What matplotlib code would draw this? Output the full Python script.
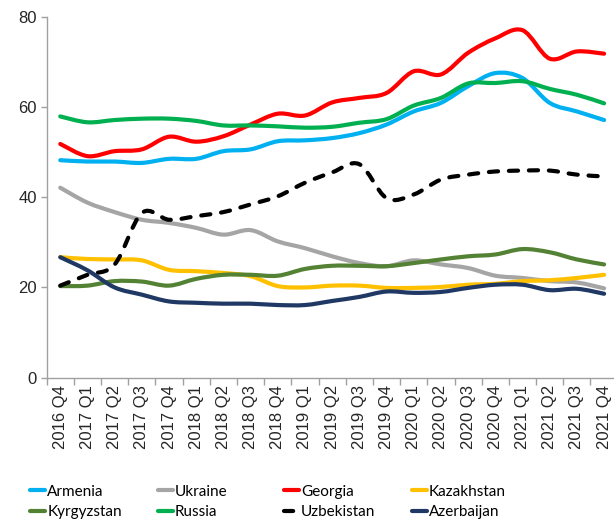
import numpy as np
import matplotlib
matplotlib.use("Agg")
from matplotlib import pyplot as plt
from matplotlib.path import Path
from matplotlib.patches import PathPatch
from matplotlib.lines import Line2D

quarters = ["2016 Q4",
            "2017 Q1", "2017 Q2", "2017 Q3", "2017 Q4",
            "2018 Q1", "2018 Q2", "2018 Q3", "2018 Q4",
            "2019 Q1", "2019 Q2", "2019 Q3", "2019 Q4",
            "2020 Q1", "2020 Q2", "2020 Q3", "2020 Q4",
            "2021 Q1", "2021 Q2", "2021 Q3", "2021 Q4"]

armenia = [48.2, 47.9, 47.9, 47.6, 48.5, 48.5, 50.2, 50.6, 52.4, 52.6, 53.1,
           54.2, 56.1, 59.0, 60.9, 64.6, 67.5, 66.4, 60.9, 59.0, 57.1]
ukraine = [42.1, 38.8, 36.7, 35.0, 34.3, 33.2, 31.7, 32.7, 30.2, 28.7, 26.9,
           25.4, 24.7, 26.0, 25.1, 24.3, 22.6, 22.1, 21.4, 21.1, 19.8]
georgia = [51.8, 49.1, 50.2, 50.6, 53.4, 52.3, 53.5, 56.1, 58.5, 58.1, 61.0,
           62.0, 63.1, 67.9, 67.2, 72.0, 75.2, 77.0, 70.7, 72.3, 71.8]
kazakhstan = [26.7, 26.3, 26.2, 26.0, 23.9, 23.6, 23.2, 22.5, 20.3, 20.0, 20.4,
              20.4, 19.9, 19.9, 20.1, 20.6, 20.8, 21.4, 21.6, 22.1, 22.8]
kyrgyzstan = [20.3, 20.4, 21.4, 21.3, 20.4, 21.9, 22.8, 22.8, 22.6, 24.1, 24.8,
              24.8, 24.7, 25.4, 26.2, 26.9, 27.3, 28.5, 27.8, 26.2, 25.1]
russia = [57.9, 56.6, 57.1, 57.4, 57.4, 56.9, 55.9, 55.9, 55.7, 55.4, 55.6,
          56.5, 57.3, 60.3, 62.0, 65.2, 65.3, 65.7, 64.0, 62.7, 60.8]
uzbekistan = [20.4, 22.8, 25.1, 36.5, 35.0, 35.8, 36.7, 38.4, 40.2, 43.2, 45.5,
              47.3, 39.8, 40.6, 43.9, 45.0, 45.7, 45.9, 45.9, 45.0, 44.6]
azerbaijan = [26.7, 23.8, 20.0, 18.4, 16.9, 16.6, 16.4, 16.4, 16.1, 16.1, 17.0,
              17.9, 19.1, 18.8, 19.0, 19.9, 20.6, 20.6, 19.4, 19.7, 18.6]

series = [("Armenia", armenia, "#00B0F0", "-"),
          ("Ukraine", ukraine, "#A5A5A5", "-"),
          ("Georgia", georgia, "#FF0000", "-"),
          ("Kazakhstan", kazakhstan, "#FFC000", "-"),
          ("Kyrgyzstan", kyrgyzstan, "#548235", "-"),
          ("Russia", russia, "#00B050", "-"),
          ("Uzbekistan", uzbekistan, "#000000", (0, (2.2, 2.6))),
          ("Azerbaijan", azerbaijan, "#203864", "-")]


def smooth_path(xs, ys):
    # excel-like smoothed line: bezier segments through every point
    pts = np.column_stack([xs, ys]).astype(float)
    n = len(pts)
    verts = [pts[0]]
    codes = [Path.MOVETO]
    for k in range(n - 1):
        p0 = pts[max(k - 1, 0)]
        p1 = pts[k]
        p2 = pts[k + 1]
        p3 = pts[min(k + 2, n - 1)]
        verts += [p1 + (p2 - p0) / 6, p2 - (p3 - p1) / 6, p2]
        codes += [Path.CURVE4] * 3
    return Path(verts, codes)


fig = plt.figure(figsize=(6.14, 5.25), dpi=100)
ax = fig.add_axes([0.076, 0.2806, 0.930, 0.6876])

x = np.arange(len(quarters))
lw = 3.0
for name, vals, col, ls in series:
    patch = PathPatch(smooth_path(x, vals), fill=False, edgecolor=col,
                      linewidth=lw, linestyle=ls, capstyle="round",
                      joinstyle="round", zorder=3)
    ax.add_patch(patch)

ax.set_xlim(-0.5, len(quarters) - 0.5)
ax.set_ylim(0, 80)
ax.set_yticks([0, 20, 40, 60, 80])

ax.set_xticks(x)
ax.set_xticklabels(quarters, rotation=90, fontsize=12, color="#262626",
                   family="Liberation Sans")
ax.set_xticks(np.arange(-0.5, len(quarters)), minor=True)
ax.tick_params(axis="x", which="major", length=0, pad=5)
ax.tick_params(axis="x", which="minor", length=5, color="#A0A0A0", width=1)
ax.tick_params(axis="y", length=4, color="#A0A0A0", width=1, pad=3,
               labelsize=12, labelcolor="#262626")
for lab in ax.get_yticklabels():
    lab.set_family("Liberation Sans")

for s in ["top", "right"]:
    ax.spines[s].set_visible(False)
for s in ["left", "bottom"]:
    ax.spines[s].set_color("#A0A0A0")
    ax.spines[s].set_linewidth(1)

# legend, 4 columns of 2 rows
col_x = [0.049, 0.257, 0.4625, 0.671]
for c in range(4):
    hs = []
    labs = []
    for name, vals, col, ls in [series[c], series[c + 4]]:
        hs.append(Line2D([], [], color=col, linewidth=lw, linestyle=ls,
                         solid_capstyle="round", dash_capstyle="round"))
        labs.append(name)
    fig.legend(hs, labs, loc="upper left", bbox_to_anchor=(col_x[c], 0.077),
               frameon=False, borderpad=0, borderaxespad=0, handlelength=1.0,
               handletextpad=0.12, labelspacing=0.42,
               prop={"family": "Lato", "size": 11})

fig.savefig("out.png", dpi=100)
